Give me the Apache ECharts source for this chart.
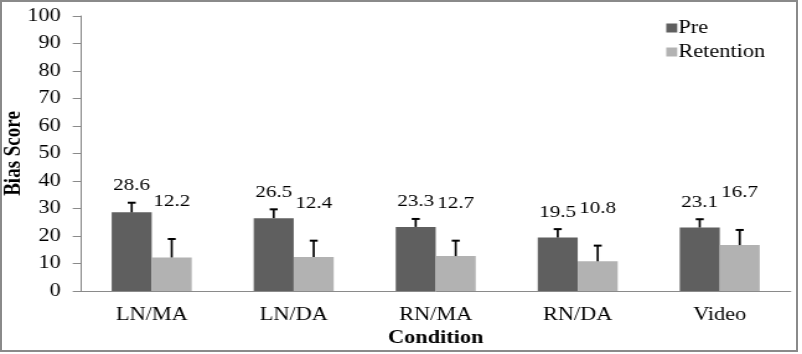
<!DOCTYPE html>
<html>
<head>
<meta charset="utf-8">
<script src="https://cdn.jsdelivr.net/npm/echarts@6/dist/echarts.min.js"></script>
<style>
  html, body { margin: 0; padding: 0; background: #fff; }
  #wrap { position: relative; width: 802px; height: 354px; overflow: hidden; }
  /* the original picture is stretched sideways, so the chart is drawn narrower and scaled */
  #chart { position: absolute; left: 0; top: 0; width: 647px; height: 354px; transform: scaleX(1.2396); transform-origin: 0 0; }
  #frame { position: absolute; left: 0; top: 0; width: 798px; height: 352px; box-sizing: border-box; border: 2px solid #8a8a8a; pointer-events: none; }
</style>
</head>
<body>
<div id="wrap">
  <div id="chart"></div>
  <div id="frame"></div>
</div>
<script>
const categories = ['LN/MA', 'LN/DA', 'RN/MA', 'RN/DA', 'Video']
const pre = [28.6, 26.5, 23.3, 19.5, 23.1]
const retention = [12.2, 12.4, 12.7, 10.8, 16.7]
const preErr = [3.5, 3.2, 2.9, 3.0, 3.0]
const retentionErr = [6.7, 5.9, 5.6, 5.7, 5.5]
const yTicks = [0, 10, 20, 30, 40, 50, 60, 70, 80, 90, 100]

const S = 802 / 647 // horizontal stretch
const sx = v => v / S
const font = '"Liberation Serif", "Times New Roman", serif'
const colors = ['#5f5f5f', '#b2b2b2']
const axisColor = '#8a8a8a'
const barWidth = sx(40)

// error bar + value label on top of each bar
function errorSeries(values, errs, side, labelGap) {
  return {
    type: 'custom',
    z: 10,
    data: values.map((v, i) => [i, v, errs[i]]),
    renderItem(params, api) {
      const base = api.coord([api.value(0), api.value(1)])
      const top = api.coord([api.value(0), api.value(1) + api.value(2)])
      const x = base[0] + side * barWidth / 2
      return {
        type: 'group',
        children: [
          { type: 'line', shape: { x1: x, y1: base[1], x2: x, y2: top[1] }, style: { stroke: '#000', lineWidth: 1.7 } },
          { type: 'line', shape: { x1: x - sx(4), y1: top[1], x2: x + sx(4), y2: top[1] }, style: { stroke: '#000', lineWidth: 2 } },
          {
            type: 'text',
            style: {
              x, y: top[1] - labelGap,
              text: api.value(1).toFixed(1),
              font: `17px ${font}`,
              fill: '#000',
              align: 'center',
              verticalAlign: 'middle',
            },
          },
        ],
      }
    },
  }
}

const chart = echarts.init(document.getElementById('chart'))
chart.setOption({
  animation: false,
  color: colors,
  textStyle: { fontFamily: font },
  grid: { left: sx(80.7), right: sx(11.3), top: 16, bottom: 63, outerBoundsMode: 'none', containLabel: false },
  legend: {
    orient: 'vertical',
    left: sx(660),
    top: 14,
    itemWidth: sx(11),
    itemHeight: 9,
    itemGap: 6,
    icon: 'rect',
    data: ['Pre', 'Retention'],
    textStyle: { fontFamily: font, fontSize: 18, color: '#000', lineHeight: 18, padding: [0, 0, 0, -4] },
  },
  xAxis: {
    type: 'category',
    data: categories,
    name: 'Condition',
    nameLocation: 'middle',
    nameGap: 38,
    nameMoveOverlap: false,
    nameTextStyle: { fontFamily: font, fontSize: 18, fontWeight: 'bold', color: '#000' },
    axisLine: { lineStyle: { color: axisColor, width: 1 } },
    axisTick: { length: 5, lineStyle: { color: axisColor } },
    axisLabel: { fontFamily: font, fontSize: 18, color: '#000', margin: 15 },
  },
  yAxis: {
    type: 'value',
    min: 0,
    max: 100,
    interval: 10,
    name: 'Bias Score',
    nameLocation: 'middle',
    nameGap: sx(55),
    nameMoveOverlap: false,
    nameTextStyle: { fontFamily: font, fontSize: 19, fontWeight: 'bold', color: '#000' },
    axisLine: { show: true, lineStyle: { color: axisColor, width: 1 } },
    axisTick: { show: true, length: sx(8), lineStyle: { color: axisColor } },
    splitLine: { show: false },
    axisLabel: {
      fontFamily: font, fontSize: 18, color: '#000', margin: sx(20),
      formatter: v => (yTicks.includes(v) ? String(v) : ''),
    },
  },
  series: [
    { name: 'Pre', type: 'bar', data: pre, barWidth, barGap: 0 },
    { name: 'Retention', type: 'bar', data: retention, barWidth, barGap: 0 },
    errorSeries(pre, preErr, -1, 17),
    errorSeries(retention, retentionErr, 1, 37),
  ],
})
</script>
</body>
</html>
